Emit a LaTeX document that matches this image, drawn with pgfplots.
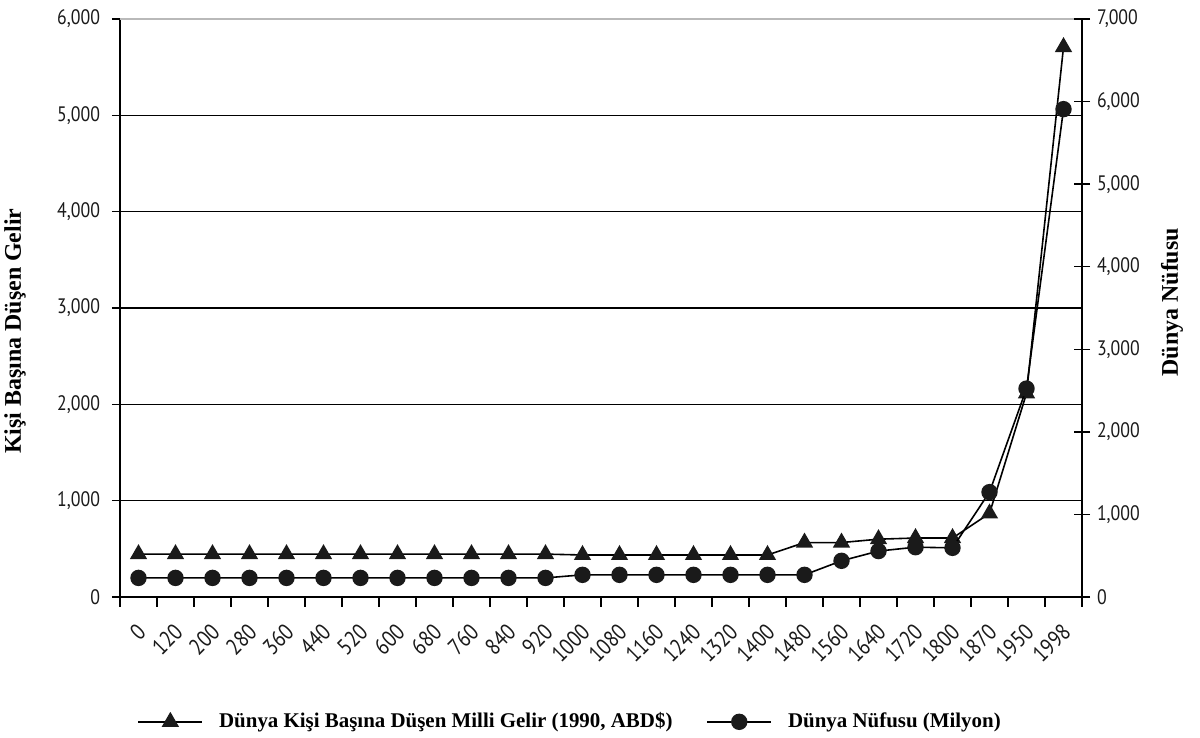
\documentclass[border=0pt]{standalone}
\usepackage{fontspec}
\setmainfont{Liberation Serif}
\newfontfamily\tickfont[FakeStretch=0.85]{PT Sans}
\usepackage{pgfplots}
\pgfplotsset{compat=1.18}
\definecolor{ink}{HTML}{1A1A1A}
\begin{document}
\begin{tikzpicture}
\begin{axis}[name=a,
  scale only axis, width=481bp, height=289bp,
  xmin=-0.5, xmax=25.5, ymin=0, ymax=6000,
  axis x line*=bottom, axis y line*=left,
  axis line style={black, line width=0.8bp},
  xtick={0,...,25},
  xticklabels={0,120,200,280,360,440,520,600,680,760,840,920,1000,1080,1160,1240,1320,1400,1480,1560,1640,1720,1800,1870,1950,1998},
  minor xtick={-0.5,0.5,...,25.5},
  major x tick style={draw=none},
  minor x tick style={black, line width=0.7bp},
  minor tick length=5bp,
  major tick length=4bp,
  tick align=outside,
  y tick style={black, line width=0.7bp},
  ytick={0,1000,...,5000},
  extra y ticks={6000},
  extra y tick style={major grid style={gray!55, line width=0.9bp}},
  ymajorgrids,
  major grid style={black, line width=0.6bp},
  /pgf/number format/.cd, 1000 sep={,}, assume math mode=true, /pgfplots/.cd,
  yticklabel style={font=\tickfont\fontsize{10.5}{12}\selectfont, text=ink, xshift=-2.5bp},
  xticklabel style={font=\tickfont\fontsize{11.5}{13}\selectfont, text=ink, xshift=4bp, yshift=-9bp, rotate=45, anchor=east},
  ylabel={Kişi Başına Düşen Gelir},
  ylabel style={font=\bfseries\fontsize{12}{14}\selectfont, at={(axis description cs:-0.109,0.46)}, anchor=center},
  clip=false,
]
\addplot[black, line width=0.8bp, mark=triangle*, mark size=4.2bp, mark options={fill=ink, draw=ink}] coordinates {
(0,445) (1,445) (2,445) (3,445) (4,445) (5,445) (6,445) (7,445) (8,445) (9,445) (10,445) (11,445)
(12,436) (13,436) (14,436) (15,436) (16,436) (17,436)
(18,565) (19,565) (20,600) (21,612) (22,612) (23,867) (24,2114) (25,5709)};
\end{axis}
\begin{axis}[
  scale only axis, width=481bp, height=289bp,
  xmin=-0.5, xmax=25.5, ymin=0, ymax=7000,
  axis y line*=right, axis x line=none,
  axis line style={black, line width=0.8bp},
  ytick={0,1000,...,7000},
  tick align=center, major tick length=8bp,
  y tick style={black, line width=0.7bp},
  /pgf/number format/.cd, 1000 sep={,}, assume math mode=true, /pgfplots/.cd,
  yticklabel style={font=\tickfont\fontsize{10.5}{12}\selectfont, text=ink},
  ylabel={Dünya Nüfusu},
  ylabel style={font=\bfseries\fontsize{12}{14}\selectfont, at={(axis description cs:1.0936,0.51)}, anchor=center},
  legend style={at={(axis description cs:0.469,-0.216)}, anchor=center, draw=none, fill=none,
    legend columns=2, font=\bfseries\fontsize{10.5}{12}\selectfont,
    /tikz/every odd column/.append style={column sep=6bp},
    /tikz/every even column/.append style={column sep=15bp}},
  legend image code/.code={\draw[mark repeat=2, mark phase=2] plot coordinates {(0bp,0bp) (16bp,0bp) (32bp,0bp)};},
  clip=false,
]
\addlegendimage{black, line width=0.8bp, mark=triangle*, mark size=4.2bp, mark options={fill=ink, draw=ink}}
\addlegendentry{Dünya Kişi Başına Düşen Milli Gelir (1990, ABD\$)}
\addplot[black, line width=0.8bp, mark=*, mark size=3.7bp, mark options={fill=ink, draw=ink}] coordinates {
(0,231) (1,231) (2,231) (3,231) (4,231) (5,231) (6,231) (7,231) (8,231) (9,231) (10,231) (11,231)
(12,268) (13,268) (14,268) (15,268) (16,268) (17,268) (18,268)
(19,438) (20,556) (21,603) (22,595) (23,1270) (24,2524) (25,5908)};
\addlegendentry{Dünya Nüfusu (Milyon)}
\end{axis}
\pgfresetboundingbox
\path ([shift={(-60bp,-70.5bp)}]a.south west) rectangle ([shift={(59bp,9.5bp)}]a.north east);
\end{tikzpicture}
\end{document}
